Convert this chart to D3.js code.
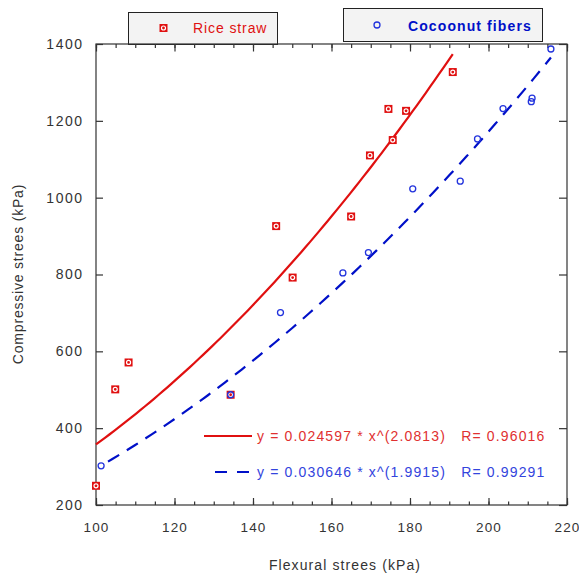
<!DOCTYPE html>
<html>
<head>
<meta charset="utf-8">
<script src="https://cdn.jsdelivr.net/npm/d3@7"></script>
<style>
  body { margin: 0; background: #fff; }
  text { font-family: "Liberation Sans", Arial, sans-serif; }
</style>
</head>
<body>
<div id="chart"></div>
<script>
// Rice straw measurements (flexural kPa, compressive kPa)
const riceX = [100, 104.9, 108.3, 134.3, 145.9, 150.1, 165, 169.8, 174.5, 175.6, 179, 190.9]
const riceY = [250, 501, 571, 487, 926, 792, 951, 1110, 1231, 1150, 1226, 1327]

// Cocoonut fibers
const cocoX = [101.3, 134.3, 147, 162.9, 169.4, 180.7, 192.8, 197.2, 203.7, 210.9, 211.1, 215.9]
const cocoY = [302, 487, 701, 804, 857, 1023, 1043, 1153, 1232, 1250, 1259, 1387]

// power fits y = a * x^b
const riceFit = { a: 0.024597, b: 2.0813, r: '0.96016' }
const cocoFit = { a: 0.030646, b: 1.9915, r: '0.99291' }

const xTicks = [100, 120, 140, 160, 180, 200, 220]
const yTicks = [200, 400, 600, 800, 1000, 1200, 1400]

const W = 579, H = 573
const m = { left: 96, right: 12, top: 44, bottom: 68 }

const svg = d3.select('#chart').append('svg')
  .attr('width', W)
  .attr('height', H)

const x = d3.scaleLinear().domain([100, 220]).range([m.left, W - m.right])
const y = d3.scaleLinear().domain([200, 1400]).range([H - m.bottom, m.top])

const axisCol = '#333'
const red = '#e01010'
const blue = '#0010c8'

// legend boxes at top (drawn first so the frame sits over them)
function legendBox(x0, y0, w, h) {
  svg.append('rect')
    .attr('x', x0).attr('y', y0)
    .attr('width', w).attr('height', h)
    .attr('fill', '#f3f3f3')
    .attr('stroke', '#222')
    .attr('stroke-width', 1)
}
legendBox(128.5, 12.5, 149, 32)
legendBox(343.5, 8.5, 199, 33)

// rice marker
function riceMark(g, cx, cy) {
  g.append('rect')
    .attr('x', cx - 4).attr('y', cy - 4)
    .attr('width', 8).attr('height', 8)
    .attr('fill', red)
  g.append('circle')
    .attr('cx', cx).attr('cy', cy).attr('r', 2)
    .attr('fill', 'none').attr('stroke', '#fff').attr('stroke-width', 1.2)
}
function cocoMark(g, cx, cy) {
  g.append('circle')
    .attr('cx', cx).attr('cy', cy).attr('r', 3)
    .attr('fill', 'none').attr('stroke', '#2233dd').attr('stroke-width', 1.3)
}

const leg = svg.append('g')
riceMark(leg, 163.5, 28)
leg.append('text')
  .attr('x', 193).attr('y', 33)
  .attr('font-size', 14).attr('fill', red)
  .attr('letter-spacing', 0.9)
  .text('Rice straw')
cocoMark(leg, 377, 25)
leg.append('text')
  .attr('x', 408).attr('y', 30.5)
  .attr('font-size', 14).attr('font-weight', 'bold').attr('fill', blue)
  .attr('letter-spacing', 1.1)
  .text('Cocoonut fibers')

// frame
svg.append('rect')
  .attr('x', m.left).attr('y', m.top)
  .attr('width', W - m.right - m.left)
  .attr('height', H - m.bottom - m.top)
  .attr('fill', 'none')
  .attr('stroke', axisCol)
  .attr('stroke-width', 1.2)

const minorX = d3.range(100, 221, 5)

// bottom axis
const gx = svg.append('g').attr('transform', `translate(0,${H - m.bottom})`)
gx.call(d3.axisBottom(x).tickValues(minorX).tickSizeInner(-3.5).tickSizeOuter(0).tickFormat(''))
const gxMajor = gx.append('g').call(d3.axisBottom(x).tickValues(xTicks).tickSizeInner(-7).tickSizeOuter(0)
  .tickPadding(17).tickFormat(d3.format('d')))

// top axis
const gt = svg.append('g').attr('transform', `translate(0,${m.top})`)
gt.call(d3.axisTop(x).tickValues(minorX).tickSizeInner(-4).tickSizeOuter(0).tickFormat(''))
gt.append('g').call(d3.axisTop(x).tickValues(xTicks).tickSizeInner(-7.5).tickSizeOuter(0).tickFormat(''))

// left and right axes
const gy = svg.append('g').attr('transform', `translate(${m.left},0)`)
gy.call(d3.axisLeft(y).tickValues(yTicks).tickSizeInner(-7).tickSizeOuter(0)
  .tickPadding(12.5).tickFormat(d3.format('d')))
const gr = svg.append('g').attr('transform', `translate(${W - m.right},0)`)
gr.call(d3.axisRight(y).tickValues(yTicks).tickSizeInner(-8).tickSizeOuter(0).tickFormat(''))

svg.selectAll('.domain').remove()
svg.selectAll('.tick line').attr('stroke', axisCol).attr('stroke-width', 1.2)
svg.selectAll('.tick text')
  .attr('font-size', 14)
  .attr('fill', '#333')
  .attr('letter-spacing', 1.5)
  .style('font-family', '"Liberation Sans", Arial, sans-serif')
// x labels a little tighter so "220" stays inside the window
gxMajor.selectAll('.tick text')
  .attr('font-size', 13.5)
  .attr('letter-spacing', 1.1)

// axis titles
svg.append('text')
  .attr('x', 345).attr('y', 570)
  .attr('text-anchor', 'middle')
  .attr('font-size', 14).attr('fill', '#333').attr('letter-spacing', 1.1)
  .text('Flexural strees (kPa)')
svg.append('text')
  .attr('transform', `translate(23,274) rotate(-90)`)
  .attr('text-anchor', 'middle')
  .attr('font-size', 14).attr('fill', '#333').attr('letter-spacing', 0.8)
  .text('Compressive strees (kPa)')

// fitted curves
const line = d3.line().x(d => x(d[0])).y(d => y(d[1]))
function fitPts(f, x0, x1) {
  const n = 80
  return d3.range(n + 1).map(i => {
    const xv = x0 + (x1 - x0) * i / n
    return [xv, f.a * Math.pow(xv, f.b)]
  })
}
svg.append('path')
  .attr('d', line(fitPts(riceFit, d3.min(riceX), d3.max(riceX))))
  .attr('fill', 'none').attr('stroke', red).attr('stroke-width', 2.2)
svg.append('path')
  .attr('d', line(fitPts(cocoFit, d3.min(cocoX), d3.max(cocoX))))
  .attr('fill', 'none').attr('stroke', blue).attr('stroke-width', 2.2)
  .attr('stroke-dasharray', '13,9').attr('stroke-dashoffset', -8)

// points
const pts = svg.append('g')
riceX.forEach((v, i) => riceMark(pts, x(v), y(riceY[i])))
cocoX.forEach((v, i) => cocoMark(pts, x(v), y(cocoY[i])))

// equation legend
const eq = svg.append('g')
eq.append('line')
  .attr('x1', 204).attr('x2', 252).attr('y1', 436).attr('y2', 436)
  .attr('stroke', red).attr('stroke-width', 2.2)
eq.append('text')
  .attr('x', 257).attr('y', 441)
  .attr('font-size', 14).attr('fill', '#e03030').attr('letter-spacing', 1.15)
  .attr('xml:space', 'preserve')
  .text(`y = ${riceFit.a} * x^(${riceFit.b})   R= ${riceFit.r}`)
eq.append('line')
  .attr('x1', 215).attr('x2', 250).attr('y1', 472).attr('y2', 472)
  .attr('stroke', blue).attr('stroke-width', 2.2)
  .attr('stroke-dasharray', '12,10')
eq.append('text')
  .attr('x', 257).attr('y', 477)
  .attr('font-size', 14).attr('fill', '#3344dd').attr('letter-spacing', 1.15)
  .attr('xml:space', 'preserve')
  .text(`y = ${cocoFit.a} * x^(${cocoFit.b})   R= ${cocoFit.r}`)
</script>
</body>
</html>
